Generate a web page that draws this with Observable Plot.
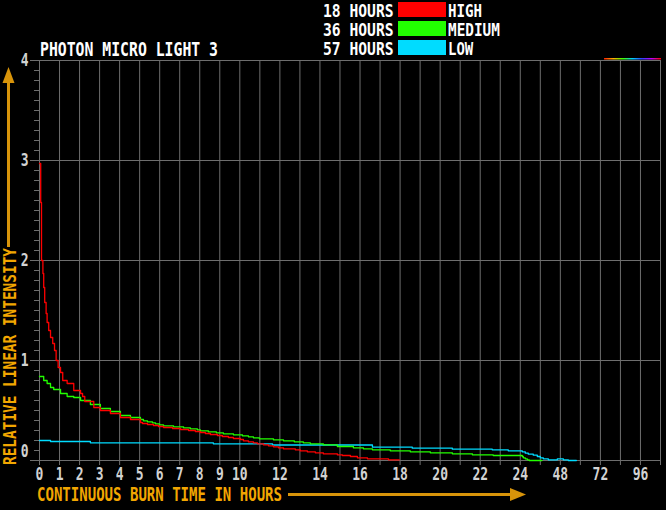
<!DOCTYPE html>
<html><head><meta charset="utf-8">
<script src="https://cdn.jsdelivr.net/npm/d3@7"></script>
<script src="https://cdn.jsdelivr.net/npm/@observablehq/plot@0.6"></script>
<style>
html,body{margin:0;padding:0;background:#000;}
#wrap{position:relative;width:666px;height:510px;overflow:hidden;background:#000;}
#wrap svg{display:block;}
#overlay{position:absolute;left:0;top:0;pointer-events:none;}
</style></head><body><div id="wrap"></div>
<script>
// ---- data ----
const chartTitle = "PHOTON MICRO LIGHT 3";
const xTitle = "CONTINUOUS BURN TIME IN HOURS";
const yTitle = "RELATIVE LINEAR INTENSITY";
const seriesNames = ["HIGH", "MEDIUM", "LOW"];
const seriesDurations = ["18 HOURS", "36 HOURS", "57 HOURS"];
const seriesColors = ["#ff0000", "#22ff00", "#00dcff"];

const highHours  = [0, 0.06, 0.1, 0.17, 0.21, 0.26, 0.33, 0.38, 0.46, 0.55, 0.66, 0.75, 0.83, 0.93, 1.05, 1.16, 1.38, 1.71, 2.05, 2.15, 2.26, 2.71, 3.04, 3.54, 4.04, 4.54, 5.04, 5.14, 5.39, 5.69, 5.94, 6.19, 6.64, 7.04, 7.44, 7.78, 8.03, 8.28, 8.53, 8.88, 9.13, 9.43, 9.68, 10.03, 10.18, 10.43, 10.68, 10.88, 11.18, 11.43, 11.68, 11.93, 12.18, 12.77, 13.02, 13.37, 13.77, 14.17, 14.87, 15.12, 15.52, 15.87, 16.37, 17.42, 17.96];
const highValues = [2.97, 2.58, 2.0, 1.87, 1.73, 1.58, 1.47, 1.38, 1.30, 1.23, 1.17, 1.10, 1.00, 0.93, 0.88, 0.80, 0.77, 0.70, 0.67, 0.64, 0.59, 0.53, 0.50, 0.47, 0.43, 0.41, 0.38, 0.37, 0.36, 0.35, 0.34, 0.33, 0.32, 0.31, 0.30, 0.29, 0.28, 0.27, 0.26, 0.25, 0.24, 0.23, 0.22, 0.21, 0.197, 0.187, 0.177, 0.167, 0.157, 0.147, 0.137, 0.127, 0.117, 0.107, 0.097, 0.087, 0.077, 0.067, 0.057, 0.05, 0.04, 0.027, 0.017, 0.007, 0.007];

const mediumHours  = [0, 0.21, 0.38, 0.55, 0.71, 1.05, 1.38, 1.71, 2.05, 2.54, 3.04, 3.54, 4.04, 4.54, 5.04, 5.19, 5.39, 5.64, 5.79, 5.99, 6.19, 6.69, 7.19, 7.53, 7.88, 8.03, 8.43, 8.83, 9.18, 9.68, 10.13, 10.43, 10.68, 10.98, 11.68, 12.18, 12.72, 13.17, 13.52, 14.17, 14.87, 15.67, 16.17, 16.62, 17.51, 18.51, 19.51, 20.61, 21.61, 22.65, 25.2, 25.8, 27, 28.2, 29.4, 37];
const mediumValues = [0.84, 0.80, 0.77, 0.73, 0.71, 0.67, 0.64, 0.63, 0.60, 0.56, 0.52, 0.49, 0.45, 0.43, 0.41, 0.397, 0.387, 0.377, 0.367, 0.357, 0.347, 0.337, 0.327, 0.317, 0.307, 0.297, 0.287, 0.277, 0.267, 0.257, 0.247, 0.237, 0.227, 0.217, 0.207, 0.197, 0.187, 0.177, 0.167, 0.157, 0.14, 0.127, 0.117, 0.107, 0.097, 0.087, 0.077, 0.067, 0.057, 0.05, 0.04, 0.027, 0.017, 0.007, 0, 0];

const lowHours  = [0, 0.55, 2.54, 8.68, 11.63, 16.62, 18.61, 20.61, 22.6, 23.4, 25.2, 27, 28.8, 31.8, 34.2, 36, 37.8, 40.8, 46.2, 49.8, 52.8, 57.6];
const lowValues = [0.20, 0.19, 0.177, 0.167, 0.155, 0.133, 0.123, 0.113, 0.107, 0.097, 0.087, 0.073, 0.063, 0.053, 0.04, 0.027, 0.017, 0.007, 0.017, 0.007, 0, 0];

const xGridHours  = [0,1,2,3,4,5,6,7,8,9,10,11,12,13,14,15,16,17,18,19,20,21,22,23,24,36,48,60,72,84,96,108];
const xLabelHours = [0,1,2,3,4,5,6,7,8,9,10,12,14,16,18,20,22,24,48,72,96];
const yLabels = [0, 1, 2, 3, 4];

// ---- layout / helpers ----
const W = 666, H = 510;
const gridColor = "#6e6e6e", tickColor = "#d2d2d2";
const orange = "#f2a600", arrowColor = "#d8940a";
// broken time axis: linear to 24 h, then 24 h per two grid cells
const toU = h => h <= 24 ? h : 24 + (h - 24) / 12;
const yMinor = d3.range(0, 40).map(i => i / 10);

const mk = (hours, values) => hours.map((h, i) => ({h, v: values[i]}));
const series = [mk(highHours, highValues), mk(mediumHours, mediumValues), mk(lowHours, lowValues)];

const lineMark = (data, color) => Plot.line(data, {
  x: d => toU(d.h), y: "v", stroke: color, strokeWidth: 1.3, curve: "step-after"
});

const plot = Plot.plot({
  width: W, height: H,
  marginLeft: 39, marginRight: 6, marginTop: 60, marginBottom: 50,
  x: {domain: [0, 31], axis: null},
  y: {domain: [0, 4], axis: null},
  style: {background: "#000", color: tickColor, fontFamily: "'DejaVu Sans Mono', monospace", fontSize: "13px", fontWeight: "bold"},
  marks: [
    Plot.ruleX(xGridHours, {x: toU, y1: 0, y2: 4, stroke: gridColor}),
    Plot.ruleY([1, 2, 3, 4], {stroke: gridColor}),
    Plot.ruleY([0], {stroke: gridColor}),
    Plot.ruleX(xGridHours, {x: toU, y1: 0, y2: -0.05, stroke: gridColor}),
    Plot.ruleY(yMinor, {x1: -0.25, x2: 0, stroke: gridColor}),
    Plot.ruleY(yLabels, {x1: -0.45, x2: 0, stroke: gridColor}),
    Plot.ruleX([0], {y1: 0, y2: 4, stroke: gridColor}),
    Plot.text(xLabelHours, {x: toU, y: 0, dy: 14, text: h => String(h), fill: tickColor}),
    Plot.text(yLabels, {x: 0, y: d => d === 0 ? 0.09 : d, dx: -11, textAnchor: "end", text: d => String(d), fill: tickColor}),
    lineMark(series[2], seriesColors[2]),
    lineMark(series[1], seriesColors[1]),
    lineMark(series[0], seriesColors[0])
  ]
});

// stretch tick-label glyphs vertically (tall bitmap-like font)
plot.querySelectorAll("text").forEach(t => {
  const tr = t.getAttribute("transform") || "";
  const x = +t.getAttribute("x") || 0, y = +t.getAttribute("y") || 0;
  t.setAttribute("transform", `${tr} translate(${x},${y}) scale(1,1.35) translate(${-x},${-y})`);
});

const wrap = document.getElementById("wrap");
wrap.appendChild(plot);

// ---- overlay: title, legend, axis titles, arrows ----
const ov = d3.create("svg").attr("id", "overlay").attr("width", W).attr("height", H);
function label(x, y, str, {size = 14.7, fill = "#fff", anchor = "start", sy = 1.3, len = null, rotate = 0} = {}) {
  const t = ov.append("text")
    .attr("transform", `translate(${x},${y}) rotate(${rotate}) scale(1,${sy})`)
    .attr("text-anchor", anchor).attr("dy", "0.36em").attr("fill", fill)
    .attr("font-family", "'DejaVu Sans Mono', monospace").attr("font-weight", "bold")
    .attr("font-size", size).text(str);
  if (len) t.attr("textLength", len).attr("lengthAdjust", "spacingAndGlyphs");
}
label(40, 49, chartTitle, {len: 178});

const rowY = [10.3, 29.3, 48.3];
seriesNames.forEach((name, i) => {
  label(393.5, rowY[i], seriesDurations[i], {anchor: "end", len: 70.5, sy: 1.18});
  ov.append("rect").attr("x", 398).attr("y", rowY[i] - 8.3).attr("width", 48).attr("height", 15).attr("fill", seriesColors[i]);
  label(448, rowY[i], name, {len: name.length * 8.9 - 1.5, sy: 1.18});
});

label(37, 494, xTitle, {fill: orange, len: 245, sy: 1.4, size: 14});
label(10, 465, yTitle, {fill: orange, len: 217, sy: 1.2, size: 14, rotate: -90});

ov.append("line").attr("x1", 288).attr("x2", 512).attr("y1", 494.5).attr("y2", 494.5).attr("stroke", arrowColor).attr("stroke-width", 3);
ov.append("polygon").attr("points", "510,488 526,494.5 510,501").attr("fill", arrowColor);
ov.append("line").attr("x1", 8.5).attr("x2", 8.5).attr("y1", 247).attr("y2", 81).attr("stroke", arrowColor).attr("stroke-width", 3);
ov.append("polygon").attr("points", "2.5,83 8.5,67 14.5,83").attr("fill", arrowColor);

const grad = ov.append("defs").append("linearGradient").attr("id", "rb");
["#ff2000", "#ffb000", "#40ff00", "#00d0ff", "#3040ff", "#c000ff", "#ff0000"].forEach((c, i, a) =>
  grad.append("stop").attr("offset", i / (a.length - 1)).attr("stop-color", c));
ov.append("rect").attr("x", 604).attr("y", 58).attr("width", 57).attr("height", 1.5).attr("fill", "url(#rb)");

wrap.appendChild(ov.node());
</script>
</body></html>
